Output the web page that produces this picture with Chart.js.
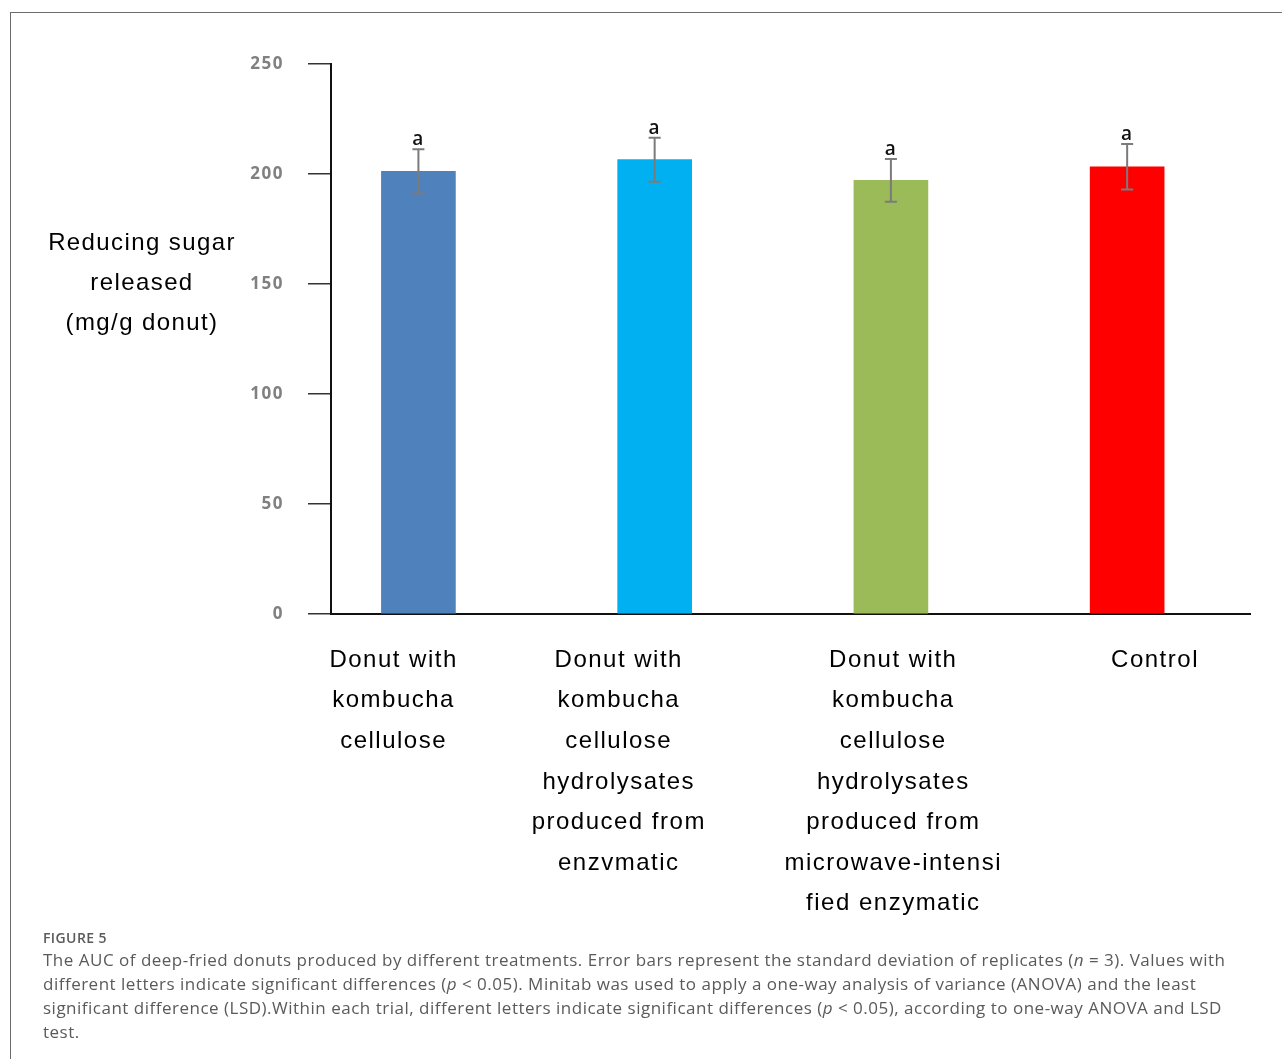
<!DOCTYPE html>
<html>
<head>
<meta charset="utf-8">
<script src="https://cdn.jsdelivr.net/npm/chart.js@4.4.1/dist/chart.umd.min.js"></script>
<style>
  html, body { margin: 0; padding: 0; background: #fff; }
  body { width: 1282px; height: 1059px; position: relative; overflow: hidden; }
  .frame {
    position: absolute; left: 10px; top: 12px; width: 1400px; height: 1200px;
    border-left: 1.5px solid #6b6b6b; border-top: 1.5px solid #6b6b6b;
  }
  #wrap { position: absolute; left: 0; top: 0; width: 1282px; height: 930px; }
  .ytitle {
    position: absolute; left: 42px; top: 222px; width: 200px;
    font: 24px "Liberation Sans", Arial, sans-serif; letter-spacing: 1.4px;
    line-height: 40px; text-align: center; color: #000;
  }
  .caption {
    position: absolute; left: 43px; top: 927px; color: #5a5a5a;
    font-family: "Open Sans", sans-serif; white-space: nowrap;
  }
  .caption .fig { font-size: 14px; font-weight: 600; line-height: 21px; letter-spacing: 0.4px; }
  .caption .txt { font-size: 17px; line-height: 24px; letter-spacing: 0.5px; }
</style>
</head>
<body>
<div class="frame"></div>
<div id="wrap"><canvas id="chart"></canvas></div>
<div class="ytitle">Reducing sugar<br>released<br>(mg/g donut)</div>
<div class="caption">
  <div class="fig">FIGURE 5</div>
  <div class="txt">The AUC of deep-fried donuts produced by different treatments. Error bars represent the standard deviation of replicates (<i>n</i> = 3). Values with<br>different letters indicate significant differences (<i>p</i> &lt; 0.05). Minitab was used to apply a one-way analysis of variance (ANOVA) and the least<br>significant difference (LSD).Within each trial, different letters indicate significant differences (<i>p</i> &lt; 0.05), according to one-way ANOVA and LSD<br>test.</div>
</div>
<script>
// Dữ liệu
const categories = [
    ["Donut with", "kombucha", "cellulose"],
    ["Donut with", "kombucha", "cellulose", "hydrolysates", "produced from", "enzvmatic"],
    ["Donut with", "kombucha", "cellulose", "hydrolysates", "produced from", "microwave-intensi", "fied enzymatic"],
    ["Control"]
];
const sugarValues = [201.2, 206.5, 197.1, 203.3];
const sugarSD = [10.1, 10.0, 9.7, 10.3];
const letters = ["a", "a", "a", "a"];
const barColors = ["#4F81BD", "#00B0F0", "#9BBB59", "#FF0000"];
const yTicks = [0, 50, 100, 150, 200, 250];
// vị trí nhãn trục X (theo đơn vị trục, nhãn hơi lệch so với cột như trong hình)
const labelPos = [-0.105, 0.848, 2.01, 3.118];

// Vẽ thanh sai số và chữ cái
const errorBarPlugin = {
    id: "errorBars",
    afterDatasetsDraw(chart) {
        const ctx = chart.ctx;
        const xs = chart.scales.x, ys = chart.scales.y;
        ctx.save();
        sugarValues.forEach((v, i) => {
            const x = xs.getPixelForValue(i);
            const top = ys.getPixelForValue(v + sugarSD[i]);
            const bot = ys.getPixelForValue(v - sugarSD[i]);
            ctx.strokeStyle = "#7b7b7b";
            ctx.lineWidth = 2;
            ctx.beginPath();
            ctx.moveTo(x, top); ctx.lineTo(x, bot);
            ctx.moveTo(x - 6, top); ctx.lineTo(x + 6, top);
            ctx.moveTo(x - 6, bot); ctx.lineTo(x + 6, bot);
            ctx.stroke();
            ctx.fillStyle = "#111";
            ctx.font = "600 19px 'Open Sans', sans-serif";
            ctx.textAlign = "center";
            ctx.textBaseline = "alphabetic";
            ctx.fillText(letters[i], x, top - 4);
        });
        ctx.restore();
    }
};

const spacingPlugin = {
    id: "spacing",
    beforeDraw(chart) { chart.ctx.letterSpacing = "1.5px"; },
    afterDraw(chart) { chart.ctx.letterSpacing = "0px"; }
};

const ctx = document.getElementById("chart").getContext("2d");
new Chart(ctx, {
    type: "bar",
    data: {
        datasets: [{
            data: sugarValues.map((v, i) => ({ x: i, y: v })),
            backgroundColor: barColors,
            borderWidth: 0,
            barThickness: 74
        }]
    },
    options: {
        responsive: true,
        maintainAspectRatio: false,
        animation: false,
        layout: { padding: { left: 0, right: 32, top: 64, bottom: 0 } },
        plugins: { legend: { display: false }, tooltip: { enabled: false } },
        scales: {
            x: {
                type: "linear",
                offset: false,
                min: -0.37,
                max: 3.52,
                afterBuildTicks: scale => { scale.ticks = labelPos.map(v => ({ value: v })); },
                afterFit: scale => { scale.height = 316; },
                grid: { display: false, drawTicks: false, offset: false },
                border: { display: true, color: "#111", width: 2 },
                ticks: {
                    autoSkip: false,
                    maxRotation: 0,
                    padding: 26,
                    color: "#000",
                    font: { family: "'Liberation Sans', Arial, sans-serif", size: 24, lineHeight: 1.69 },
                    callback: (val, idx) => categories[idx]
                }
            },
            y: {
                min: 0,
                max: 250,
                afterBuildTicks: scale => { scale.ticks = yTicks.map(v => ({ value: v })); },
                afterFit: scale => { scale.width = 331; },
                grid: { drawOnChartArea: false, drawTicks: true, tickLength: 23, color: "#333", lineWidth: 1.5 },
                border: { display: true, color: "#111", width: 2 },
                ticks: {
                    padding: 24,
                    color: "#808080",
                    font: { family: "'Open Sans', sans-serif", size: 17, weight: "bold" }
                }
            }
        }
    },
    plugins: [errorBarPlugin, spacingPlugin]
});
</script>
</body>
</html>
